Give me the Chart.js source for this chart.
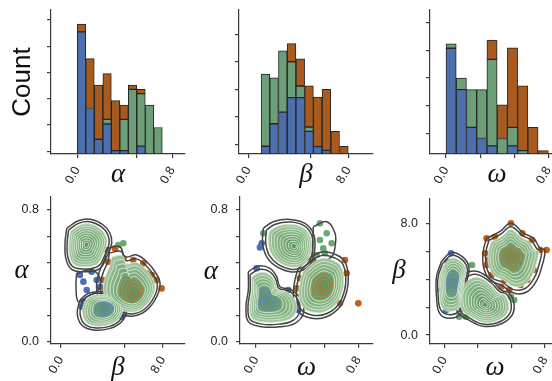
<!DOCTYPE html>
<html>
<head>
<meta charset="utf-8">
<script src="https://cdn.jsdelivr.net/npm/chart.js@4.4.1/dist/chart.umd.min.js"></script>
<style>
  body { margin: 0; background: #fff; }
  #wrap { position: relative; width: 552px; height: 381px; overflow: hidden; }
  canvas { position: absolute; }
</style>
</head>
<body>
<div id="wrap">
  <canvas id="histA" width="190" height="192" style="left:0;top:0"></canvas>
  <canvas id="histB" width="190" height="192" style="left:190px;top:0"></canvas>
  <canvas id="histW" width="184" height="192" style="left:380px;top:0"></canvas>
  <canvas id="kdeBA" width="190" height="189" style="left:0;top:192px"></canvas>
  <canvas id="kdeWA" width="190" height="189" style="left:190px;top:192px"></canvas>
  <canvas id="kdeWB" width="184" height="189" style="left:380px;top:192px"></canvas>
</div>
<script>
// ---- histogramas (altura en unidades: 10 por marca del eje) ----
const ALPHA_BINS = [0.036, 0.107, 0.179, 0.251, 0.322, 0.394, 0.465, 0.537, 0.609, 0.680];
const ALPHA_BLUE = [46.5, 17.3, 5.6, 11.4, 1.3, 1.3, 0, 3, 0, 0];
const ALPHA_GREEN = [0, 0, 0, 1.8, 0, 11.9, 24.6, 20, 18.6, 10.1];
const ALPHA_ORANGE = [2.9, 19, 20.6, 17.4, 19, 5.4, 1.6, 1.6, 0, 0];

const BETA_BINS = [0.137, 0.206, 0.276, 0.346, 0.416, 0.486, 0.555, 0.625, 0.695, 0.765];
const BETA_BLUE = [2.8, 11, 15.2, 20.5, 20.5, 8.2, 2.7, 1.3, 0, 0];
const BETA_GREEN = [26.2, 16.7, 22.3, 13, 4.2, 1.6, 0, 0, 0, 0];
const BETA_ORANGE = [0, 0, 0, 6.6, 9.9, 15, 18, 22.2, 8.2, 2.8];

const OMEGA_BINS = [0.04, 0.12, 0.2, 0.28, 0.36, 0.44, 0.52, 0.6, 0.68, 0.76];
const OMEGA_BLUE = [38.1, 23.2, 9.6, 5.6, 2.9, 0, 2.9, 0, 0, 0];
const OMEGA_GREEN = [1.6, 4.2, 13.6, 17.6, 31.2, 5.6, 6.7, 1.2, 0, 0];
const OMEGA_ORANGE = [0, 0, 0, 0, 7.0, 12.1, 28.7, 23.4, 9.6, 1.2];

// ticks
const TICKS_AB = [0, 0.5, 0.8];
const TICKS_W = [0, 0.267, 0.533, 0.8];
const LABELS_ALPHA_X = ['0.0', '', '0.8'];
const LABELS_BETA_X = ['0.0', '', '8.0'];
const LABELS_OMEGA_X = ['0.0', '', '', '0.8'];
const COUNT_TICKS_A = [1, 11, 21, 31, 41, 51];
const COUNT_TICKS_B = [3.5, 13.5, 23.5, 33.5, 43.5];
const COUNT_TICKS_W = [7.4, 17.4, 27.4, 37.4, 47.4];
const TICKS_ALPHA_Y = [0, 0.16, 0.32, 0.48, 0.64, 0.8];
const LABELS_ALPHA_Y = ['0.0', '', '', '', '', '0.8'];
const TICKS_BETA_Y = [0, 0.2, 0.4, 0.6, 0.8];
const LABELS_BETA_Y = ['0.0', '', '', '', '8.0'];

// ---- contornos (borde exterior leido + centro) y puntos ----
// panel beta / alpha
const P4_GREEN_LINE = [[0.047,0.689],[0.138,0.735],[0.243,0.743],[0.334,0.709],[0.387,0.659],[0.4,0.598],[0.361,0.516],[0.308,0.446],[0.204,0.425],[0.086,0.44],[0.04,0.507],[0.034,0.598]];
const P4_GREEN_MID = [0.2, 0.59];
const P4_ORANGE_LINE = [[0.361,0.567],[0.465,0.577],[0.504,0.516],[0.596,0.527],[0.675,0.486],[0.74,0.425],[0.779,0.355],[0.753,0.273],[0.675,0.192],[0.569,0.156],[0.465,0.168],[0.361,0.213],[0.295,0.273],[0.282,0.355],[0.308,0.436],[0.347,0.507]];
const P4_ORANGE_MID = [0.57, 0.29];
const P4_BLUE_LINE = [[0.151,0.253],[0.217,0.294],[0.308,0.304],[0.413,0.294],[0.491,0.253],[0.518,0.192],[0.478,0.122],[0.387,0.081],[0.256,0.071],[0.165,0.101],[0.13,0.172]];
const P4_BLUE_MID = [0.347, 0.203];
const P4_LINK = [[0.125,0.416],[0.243,0.436],[0.308,0.385],[0.295,0.314],[0.204,0.273],[0.138,0.243],[0.12,0.334]];
const P4_ORANGE_DOTS = [[0.361,0.557],[0.426,0.567],[0.373,0.486],[0.491,0.507],[0.569,0.496],[0.648,0.476],[0.714,0.405],[0.792,0.324],[0.753,0.375],[0.675,0.416],[0.465,0.395],[0.413,0.334],[0.347,0.314],[0.334,0.375]];
const P4_BLUE_DOTS = [[0.151,0.405],[0.178,0.365],[0.204,0.314],[0.243,0.425],[0.282,0.375],[0.308,0.334],[0.361,0.314],[0.439,0.314],[0.165,0.213],[0.23,0.152],[0.478,0.152],[0.504,0.253],[0.178,0.243]];
const P4_GREEN_DOTS = [[0.452,0.588],[0.491,0.598],[0.26,0.567],[0.23,0.537]];

// panel omega / alpha
const P5_GREEN_LINE = [[0.057,0.689],[0.135,0.729],[0.266,0.743],[0.383,0.719],[0.448,0.659],[0.461,0.577],[0.435,0.486],[0.37,0.436],[0.266,0.425],[0.162,0.456],[0.084,0.516],[0.052,0.598]];
const P5_GREEN_MID = [0.3, 0.58];
const P5_LINK = [[0.448,0.699],[0.553,0.729],[0.618,0.659],[0.618,0.577],[0.592,0.517],[0.5,0.486],[0.448,0.516]];
const P5_BLUE_LINE = [[-0.06,0.425],[0.018,0.46],[0.109,0.446],[0.162,0.395],[0.188,0.334],[0.279,0.314],[0.357,0.253],[0.37,0.172],[0.305,0.112],[0.188,0.091],[0.045,0.091],[-0.06,0.122],[-0.078,0.213],[-0.06,0.314]];
const P5_BLUE_MID = [0.08, 0.25];
const P5_ORANGE_LINE = [[0.331,0.446],[0.435,0.516],[0.526,0.547],[0.631,0.527],[0.696,0.486],[0.722,0.395],[0.709,0.304],[0.657,0.213],[0.553,0.152],[0.435,0.142],[0.331,0.182],[0.292,0.273],[0.305,0.375]];
const P5_ORANGE_MID = [0.526, 0.334];
const P5_ORANGE_DOTS = [[0.696,0.496],[0.709,0.416],[0.8,0.233],[0.344,0.385],[0.318,0.324],[0.37,0.263],[0.448,0.486],[0.657,0.233]];
const P5_BLUE_DOTS = [[0.045,0.598],[0.031,0.573],[0.005,0.446],[0.253,0.314],[0.318,0.223],[0.331,0.192],[0.031,0.314]];
const P5_GREEN_DOTS = [[0.5,0.719],[0.553,0.659],[0.5,0.618],[0.592,0.598],[0.526,0.567],[0.539,0.537],[0.475,0.527],[0.057,0.659]];

// panel omega / beta
const P6_ORANGE_LINE = [[0.335,0.692],[0.439,0.74],[0.529,0.8],[0.633,0.728],[0.71,0.692],[0.762,0.621],[0.8,0.609],[0.775,0.489],[0.736,0.394],[0.658,0.31],[0.555,0.299],[0.452,0.358],[0.362,0.394],[0.31,0.489],[0.31,0.609]];
const P6_ORANGE_MID = [0.529, 0.561];
const P6_BLUE_LINE = [[-0.026,0.525],[0.052,0.59],[0.142,0.561],[0.194,0.489],[0.18,0.394],[0.155,0.274],[0.129,0.155],[0.039,0.12],[-0.039,0.155],[-0.064,0.274],[-0.064,0.418]];
const P6_BLUE_MID = [0.064, 0.382];
const P6_GREEN_LINE = [[0.129,0.406],[0.194,0.453],[0.271,0.453],[0.374,0.394],[0.452,0.322],[0.516,0.299],[0.555,0.215],[0.529,0.131],[0.426,0.072],[0.297,0.064],[0.194,0.107],[0.103,0.167],[0.077,0.274],[0.09,0.358]];
const P6_GREEN_MID = [0.323, 0.215];
const P6_ORANGE_DOTS = [[0.335,0.692],[0.4,0.704],[0.529,0.8],[0.62,0.728],[0.697,0.681],[0.762,0.609],[0.813,0.609],[0.671,0.537],[0.71,0.466],[0.658,0.394],[0.607,0.358],[0.516,0.322],[0.452,0.346],[0.374,0.43],[0.335,0.501],[0.349,0.537],[0.323,0.585],[0.478,0.394]];
const P6_BLUE_DOTS = [[0.052,0.585],[0.026,0.525],[0.077,0.227],[0.013,0.179],[0.116,0.489],[-0.026,0.322]];
const P6_GREEN_DOTS = [[0.219,0.501],[0.116,0.131],[0.168,0.131],[0.529,0.274],[0.555,0.251],[0.194,0.346]];

// niveles del contorno (fraccion del borde exterior)
const LEVELS = [1, 0.9, 0.81, 0.72, 0.63, 0.54, 0.45, 0.36, 0.27, 0.18, 0.1];

// colores
const BAR_BLUE = '#4c6fae', BAR_GREEN = '#6c9f77', BAR_ORANGE = '#a85a1f';
const DOT_BLUE = '#4a70b6', DOT_GREEN = '#6aa874', DOT_ORANGE = '#bf5f1a';
const AXIS = '#3a3a3a';
const LEVEL_FILL = [null, null, '#9ec39b', '#8eba8d', '#82b282', '#79ab7a', '#72a674', '#6ca16f', '#679d6b', '#639a68', '#5f9764'];
const LEVEL_LINE = ['#444444', '#444444', '#d2e4cc', '#d9e9d3', '#dcebd6', '#e0edda', '#e3efdd'];

const TICK_FONT = { family: 'Liberation Sans', size: 12.5 };
const GREEK_FONT = { family: 'Liberation Serif', style: 'italic', size: 27, lineHeight: 1 };

// titulo vertical sin rotar (alpha, beta a la izquierda)
const uprightTitle = {
  id: 'uprightTitle',
  afterDraw(chart, args, opts) {
    if (!opts.text) return;
    const ctx = chart.ctx;
    const a = chart.chartArea;
    ctx.save();
    ctx.font = 'italic 27px "Liberation Serif"';
    ctx.fillStyle = '#111';
    ctx.textAlign = 'center';
    ctx.textBaseline = 'middle';
    ctx.fillText(opts.text, opts.x, (a.top + a.bottom) / 2 + (opts.dy || 0));
    ctx.restore();
  }
};
Chart.register(uprightTitle);

function lockTicks(values) {
  return s => { s.ticks = values.map(v => ({ value: v })); };
}
function lockSize(prop, px) {
  return s => {
    s[prop] = px;
    s.paddingLeft = 0; s.paddingRight = 0; s.paddingTop = 0; s.paddingBottom = 0;
  };
}

function xAxis(min, max, ticks, labels, title, height, titlePad) {
  return {
    type: 'linear', min: min, max: max, offset: false,
    afterBuildTicks: lockTicks(ticks),
    afterFit: lockSize('height', height),
    border: { color: AXIS, width: 1.2 },
    grid: { drawOnChartArea: false, tickLength: 4, color: AXIS, lineWidth: 1.2, offset: false },
    ticks: {
      autoSkip: false, minRotation: 60, maxRotation: 60, padding: 6,
      color: '#222', font: TICK_FONT, callback: (v, i) => labels[i]
    },
    title: { display: true, text: title, color: '#111', font: GREEK_FONT, padding: { top: 0, bottom: titlePad } }
  };
}

function yAxis(min, max, ticks, labels, width) {
  return {
    type: 'linear', min: min, max: max,
    afterBuildTicks: lockTicks(ticks),
    afterFit: lockSize('width', width),
    border: { color: AXIS, width: 1.2 },
    grid: { drawOnChartArea: false, tickLength: 4, color: AXIS, lineWidth: 1.2 },
    ticks: { autoSkip: false, padding: 8, color: '#222', font: TICK_FONT, callback: (v, i) => labels[i] }
  };
}

function barSet(bins, vals, color) {
  return {
    data: bins.map((x, i) => ({ x: x, y: vals[i] || null })),
    backgroundColor: color,
    borderColor: '#262626',
    borderWidth: 1,
    borderSkipped: false,
    barPercentage: 1,
    categoryPercentage: 1
  };
}

function histChart(id, o) {
  const y = yAxis(0, o.ymax, o.yticks, o.yticks.map(() => ''), o.yw);
  y.stacked = true;
  if (o.ytitle) {
    y.title = { display: true, text: o.ytitle, color: '#111',
      font: { family: 'Liberation Sans', size: 26, lineHeight: 1 }, padding: { top: 9.5 } };
  }
  const x = xAxis(o.xmin, o.xmax, o.xticks, o.xlabels, o.xtitle, 38, 4);
  x.stacked = true;
  return new Chart(document.getElementById(id), {
    type: 'bar',
    data: { datasets: [
      barSet(o.bins, o.blue, BAR_BLUE),
      barSet(o.bins, o.green, BAR_GREEN),
      barSet(o.bins, o.orange, BAR_ORANGE)
    ] },
    options: {
      responsive: false, animation: false, events: [],
      layout: { padding: { top: 10, right: o.padRight, left: 0, bottom: 0 } },
      plugins: { legend: { display: false }, tooltip: { enabled: false } },
      scales: { x: x, y: y }
    }
  });
}

function ring(outline, mid, s) {
  const pts = outline.map(p => ({ x: mid[0] + s * (p[0] - mid[0]), y: mid[1] + s * (p[1] - mid[1]) }));
  pts.push(pts[0]);
  return pts;
}

function clusterSets(outline, mid, core) {
  return LEVELS.map((s, k) => {
    const fill = LEVEL_FILL[k];
    const line = LEVEL_LINE[k] || core;
    return {
      data: ring(outline, mid, s),
      borderColor: line,
      borderWidth: k < 2 ? 1.5 : 0.9,
      backgroundColor: fill || 'rgba(0,0,0,0)',
      fill: fill ? 'shape' : false,
      pointRadius: 0,
      tension: 0.4,
      order: 50 - k
    };
  });
}

function dotSet(pts, color) {
  return {
    data: pts.map(p => ({ x: p[0], y: p[1] })),
    showLine: false,
    pointRadius: 3.3,
    pointBorderWidth: 0,
    pointBackgroundColor: color,
    pointBorderColor: color,
    order: 99
  };
}

function linkSet(pts) {
  return {
    data: ring(pts, [0, 0], 1),
    borderColor: '#444444', borderWidth: 1.5, fill: false,
    pointRadius: 0, tension: 0.4, order: 60
  };
}

function kdeChart(id, o) {
  return new Chart(document.getElementById(id), {
    type: 'line',
    data: { datasets: o.sets },
    options: {
      responsive: false, animation: false, events: [],
      layout: { padding: { top: o.padTop, right: o.padRight, left: 0, bottom: 0 } },
      plugins: {
        legend: { display: false }, tooltip: { enabled: false },
        uprightTitle: { text: o.ytitle, x: o.titleX, dy: o.titleDy }
      },
      scales: {
        x: xAxis(o.xmin, o.xmax, o.xticks, o.xlabels, o.xtitle, o.xh, 0),
        y: yAxis(o.ymin, o.ymax, o.yticks, o.ylabels, o.yw)
      }
    }
  });
}

// ---- fila superior ----
histChart('histA', {
  bins: ALPHA_BINS, blue: ALPHA_BLUE, green: ALPHA_GREEN, orange: ALPHA_ORANGE,
  xmin: -0.2215, xmax: 0.907, xticks: TICKS_AB, xlabels: LABELS_ALPHA_X, xtitle: 'α',
  ymax: 54.8, yticks: COUNT_TICKS_A, yw: 51, padRight: 5, ytitle: 'Count'
});
histChart('histB', {
  bins: BETA_BINS, blue: BETA_BLUE, green: BETA_GREEN, orange: BETA_ORANGE,
  xmin: -0.0744, xmax: 0.9976, xticks: TICKS_AB, xlabels: LABELS_BETA_X, xtitle: 'β',
  ymax: 52.3, yticks: COUNT_TICKS_B, yw: 49, padRight: 7
});
histChart('histW', {
  bins: OMEGA_BINS, blue: OMEGA_BLUE, green: OMEGA_GREEN, orange: OMEGA_ORANGE,
  xmin: -0.125, xmax: 0.9226, xticks: TICKS_W, xlabels: LABELS_OMEGA_X, xtitle: 'ω',
  ymax: 51.9, yticks: COUNT_TICKS_W, yw: 50, padRight: 0
});

// ---- fila inferior ----
kdeChart('kdeBA', {
  sets: [].concat(
    clusterSets(P4_BLUE_LINE, P4_BLUE_MID, '#5a7fc0'),
    clusterSets(P4_GREEN_LINE, P4_GREEN_MID, '#e6f0e1'),
    clusterSets(P4_ORANGE_LINE, P4_ORANGE_MID, '#c4661f'),
    [linkSet(P4_LINK),
     dotSet(P4_BLUE_DOTS, DOT_BLUE), dotSet(P4_GREEN_DOTS, DOT_GREEN), dotSet(P4_ORANGE_DOTS, DOT_ORANGE)]
  ),
  xmin: -0.076, xmax: 0.975, xticks: TICKS_AB, xlabels: LABELS_BETA_X, xtitle: 'β', xh: 37.3,
  ymin: -0.012, ymax: 0.881, yticks: TICKS_ALPHA_Y, ylabels: LABELS_ALPHA_Y, yw: 51,
  padTop: 4.7, padRight: 5, ytitle: 'α', titleX: 21.7, titleDy: 1
});
kdeChart('kdeWA', {
  sets: [].concat(
    clusterSets(P5_BLUE_LINE, P5_BLUE_MID, '#5a7fc0'),
    clusterSets(P5_GREEN_LINE, P5_GREEN_MID, '#e6f0e1'),
    clusterSets(P5_ORANGE_LINE, P5_ORANGE_MID, '#c4661f'),
    [linkSet(P5_LINK),
     dotSet(P5_BLUE_DOTS, DOT_BLUE), dotSet(P5_GREEN_DOTS, DOT_GREEN), dotSet(P5_ORANGE_DOTS, DOT_ORANGE)]
  ),
  xmin: -0.125, xmax: 0.915, xticks: TICKS_W, xlabels: LABELS_OMEGA_X, xtitle: 'ω', xh: 37.3,
  ymin: -0.012, ymax: 0.881, yticks: TICKS_ALPHA_Y, ylabels: LABELS_ALPHA_Y, yw: 50,
  padTop: 4.7, padRight: 7, ytitle: 'α', titleX: 20.8, titleDy: 2
});
kdeChart('kdeWB', {
  sets: [].concat(
    clusterSets(P6_BLUE_LINE, P6_BLUE_MID, '#5a7fc0'),
    clusterSets(P6_GREEN_LINE, P6_GREEN_MID, '#e6f0e1'),
    clusterSets(P6_ORANGE_LINE, P6_ORANGE_MID, '#c4661f'),
    [dotSet(P6_BLUE_DOTS, DOT_BLUE), dotSet(P6_GREEN_DOTS, DOT_GREEN), dotSet(P6_ORANGE_DOTS, DOT_ORANGE)]
  ),
  xmin: -0.116, xmax: 0.92, xticks: TICKS_W, xlabels: LABELS_OMEGA_X, xtitle: 'ω', xh: 37,
  ymin: -0.064, ymax: 0.979, yticks: TICKS_BETA_Y, ylabels: LABELS_BETA_Y, yw: 50,
  padTop: 6.3, padRight: 0, ytitle: 'β', titleX: 19, titleDy: 0
});
</script>
</body>
</html>
